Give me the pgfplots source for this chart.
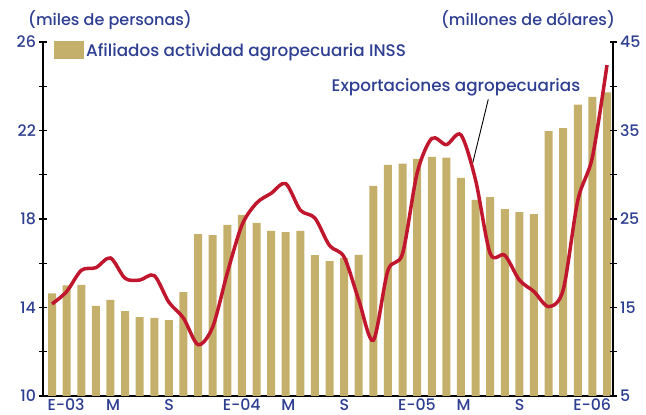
\documentclass[border=0pt]{standalone}
\usepackage{pgfplots}
\pgfplotsset{compat=1.18}
\usepackage{fontspec}
\setmainfont{Poppins Medium}
\definecolor{barcol}{RGB}{197,176,107}
\definecolor{linecol}{RGB}{192,23,47}
\definecolor{txtblue}{RGB}{46,62,145}
\begin{document}
\begin{tikzpicture}
\useasboundingbox (-43pt,-19pt) rectangle (603pt,396pt);
\pgfplotsset{
  every axis/.append style={
    scale only axis, width=570pt, height=354pt,
    xmin=-0.62, xmax=38.41,
    axis line style={line width=1.6pt},
    tick align=center,
    major tick length=7pt, minor tick length=7pt,
    every tick/.style={line width=1.4pt, black},
    tick label style={font=\fontsize{15.8}{15.8}\selectfont, text=txtblue},
    /pgf/number format/assume math mode=true,
  }
}
\begin{axis}[
  axis y line*=left, axis x line*=bottom,
  ymin=10, ymax=26,
  ytick={10,14,18,22,26}, minor ytick={12,16,20,24},
  xtick={0,4,8,12,16,20,24,28,32,36},
  xticklabels={E-03,M,S,E-04,M,S,E-05,M,S,E-06},
  xtick style={draw=none},
  minor xtick={-0.5,0.5,...,37.5},
  xticklabel style={anchor=north west, xshift=-8pt, yshift=4pt},
  legend style={at={(0,1)}, anchor=north west, draw=none, fill=none, xshift=8pt, yshift=3pt,
    font=\fontsize{16.8}{16.8}\selectfont, text=txtblue},
  legend image code/.code={\fill[barcol] (0pt,-9pt) rectangle (30pt,9pt);},
]
\addplot[ybar, bar width=8pt, fill=barcol, draw=none, bar shift=0pt] coordinates {
(0,14.64)(1,15.0)(2,15.02)(3,14.07)(4,14.34)(5,13.84)(6,13.57)(7,13.53)(8,13.43)(9,14.70)
(10,17.32)(11,17.27)(12,17.73)(13,18.19)(14,17.82)(15,17.46)(16,17.41)(17,17.46)(18,16.37)(19,16.1)
(20,16.24)(21,16.38)(22,19.5)(23,20.45)(24,20.5)(25,20.72)(26,20.81)(27,20.77)(28,19.86)(29,18.86)
(30,18.99)(31,18.45)(32,18.31)(33,18.22)(34,21.97)(35,22.11)(36,23.17)(37,23.52)(38,23.72)
};
\addlegendentry{Afiliados actividad agropecuaria INSS}
\draw[line width=0.9pt] (axis cs:29.87,23.41) -- (axis cs:28.74,20.36);
\node[text=txtblue, font=\fontsize{16.8}{16.8}\selectfont] at (axis cs:27.66,23.97) {Exportaciones agropecuarias};
\end{axis}
\begin{axis}[
  axis y line*=right, axis x line=none,
  ymin=5, ymax=45,
  ytick={5,15,25,35,45}, minor ytick={10,20,30,40},
]
\addplot[linecol, line width=3.5pt, smooth, tension=0.5, no markers] coordinates {
(0,15.4)(1,16.8)(2,19.2)(3,19.5)(4,20.6)(5,18.3)(6,18.1)(7,18.6)(8,15.6)(9,13.8)
(10,10.8)(11,12.8)(12,18.9)(13,24.3)(14,26.8)(15,27.9)(16,29.0)(17,26.0)(18,25.1)(19,22.0)
(20,20.7)(21,15.85)(22,11.3)(23,19.2)(24,21.1)(25,30.2)(26,34.1)(27,33.4)(28,34.5)(29,29.4)
(30,21.1)(31,20.9)(32,18.1)(33,16.8)(34,15.1)(35,17.0)(36,27.1)(37,32.0)(38,42.4)
};
\end{axis}
\node[text=txtblue, font=\fontsize{16}{16}\selectfont] at (67pt,376pt) {(miles de personas)};
\node[text=txtblue, font=\fontsize{16}{16}\selectfont] at (485pt,376pt) {(millones de dólares)};
\end{tikzpicture}
\end{document}
